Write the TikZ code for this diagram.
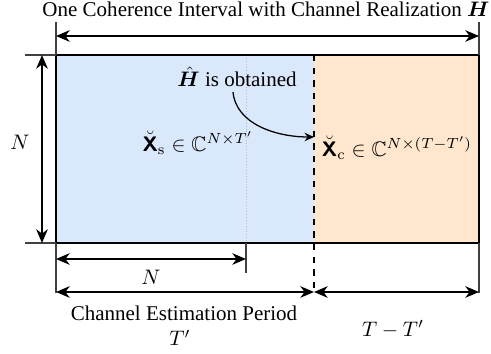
\documentclass[tikz,border=0pt]{standalone}
\usepackage{amsmath,amssymb,bm}
\usepackage[no-math]{fontspec}
\setmainfont{Liberation Serif}
\usetikzlibrary{positioning,arrows.meta,calc}

\definecolor{estblue}{HTML}{DAE8FC}
\definecolor{comorange}{HTML}{FFE6CC}

\tikzset{
  dimline/.style={<->, line width=0.7pt},
  tickline/.style={line width=0.6pt, black!75},
}

\begin{document}
\begin{tikzpicture}[x=0.476pt, y=-0.476pt, >={Stealth[length=6.5pt,width=5.5pt,inset=2pt]}]
  \useasboundingbox (0,0) rectangle (491,354);
  % coherence block
  \coordinate (tl) at (56,55);
  \coordinate (br) at (479,243);
  \coordinate (mt) at (314,55);
  \coordinate (mb) at (314,243);
  \fill[estblue] (tl) rectangle (mb);
  \fill[comorange] (mt) rectangle (br);
  \draw[gray!55, densely dotted, line width=0.4pt] (246,55) -- (246,243);
  \draw[dashed, line width=0.6pt] (mt) -- (314,293);
  \draw[line width=1.3pt] (tl) rectangle (br);

  % top dimension
  \coordinate (topL) at (56,36);
  \coordinate (topR) at (479,36);
  \draw[tickline] (56,22) -- (tl);
  \draw[tickline] (479,22) -- (479,55);
  \draw[dimline] (topL) -- (topR);

  % left dimension
  \coordinate (lftT) at (42,55);
  \coordinate (lftB) at (42,243);
  \draw[tickline] (25,55) -- (tl);
  \draw[tickline] (25,243) -- (56,243);
  \draw[dimline] (lftT) -- (lftB);

  % bottom dimensions
  \coordinate (nL) at (56,259);
  \coordinate (nR) at (246,259);
  \coordinate (bL) at (56,292);
  \coordinate (bM) at (314,292);
  \coordinate (bR) at (479,292);
  \draw[tickline] (56,243) -- (56,293);
  \draw[tickline] (246,243) -- (246,273);
  \draw[tickline] (br) -- (479,293);
  \draw[dimline] (nL) -- (nR);
  \draw[dimline] (bL) -- (bM);
  \draw[dimline] (bM) -- (bR);

  % labels
  \node (title) at (266,9) {One Coherence Interval with Channel Realization $\boldsymbol{H}$};
  \node (obt) at (237,77) {$\hat{\boldsymbol{H}}$ is obtained};
  \node (xs) at (198,143) {$\breve{\boldsymbol{\mathsf{X}}}_{\mathrm{s}}\in\mathbb{C}^{N\times T'}$};
  \node (xc) at (397,148) {$\breve{\boldsymbol{\mathsf{X}}}_{\mathrm{c}}\in\mathbb{C}^{N\times (T-T')}$};
  \node (nlft) at (20,142) {$N$};
  \node (nbot) at (151,277) {$N$};
  \node (cep) at (184,313) {Channel Estimation Period};
  \node (tprime) at (180,338) {$T'$};
  \node (trest) at (393,329) {$T-T'$};

  % H-hat handed over
  \coordinate (curveS) at (233,92);
  \coordinate (curveE) at (314,137);
  \draw[->, >={Stealth[length=4.5pt,width=4pt,inset=1.5pt]}, line width=0.6pt]
    (curveS) .. controls (236,124) and (276,137) .. (curveE);
\end{tikzpicture}
\end{document}
